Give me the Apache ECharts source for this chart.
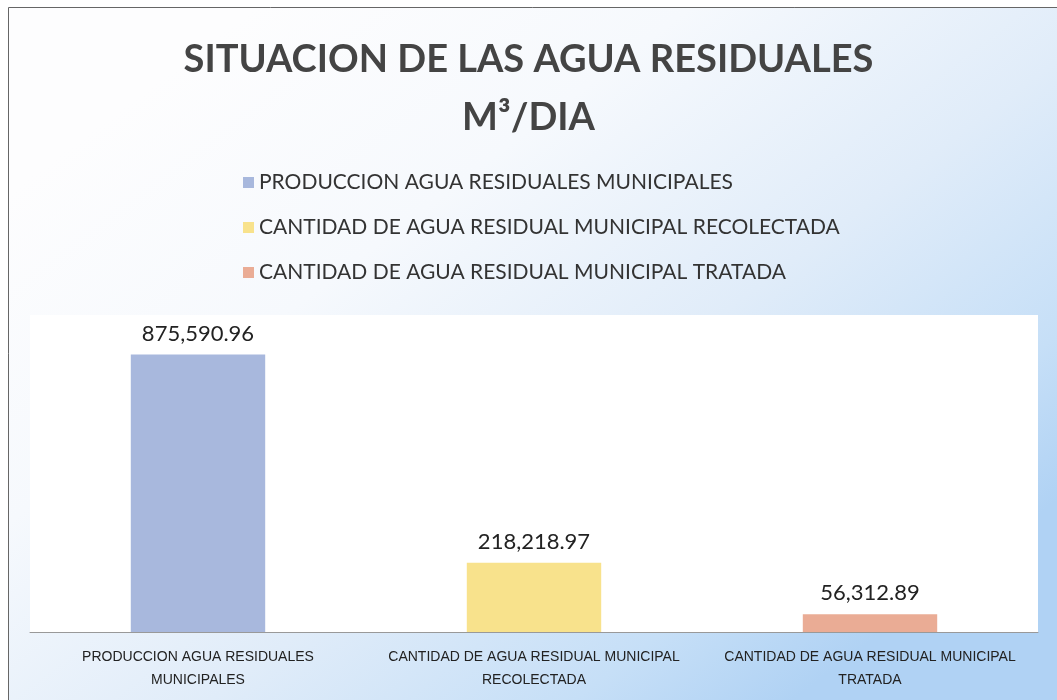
<!DOCTYPE html>
<html>
<head>
<meta charset="utf-8">
<script src="https://cdn.jsdelivr.net/npm/echarts@6/dist/echarts.min.js"></script>
<style>
  html, body { margin: 0; padding: 0; background: #fff; }
  #chart { width: 1057px; height: 700px; }
</style>
</head>
<body>
<div id="chart"></div>
<script>
// categories (also used as legend entries)
const categories = [
  'PRODUCCION AGUA RESIDUALES MUNICIPALES',
  'CANTIDAD DE AGUA RESIDUAL MUNICIPAL RECOLECTADA',
  'CANTIDAD DE AGUA RESIDUAL MUNICIPAL TRATADA'
];
// axis labels as printed (two lines)
const axisLabels = [
  'PRODUCCION AGUA RESIDUALES\nMUNICIPALES',
  'CANTIDAD DE AGUA RESIDUAL MUNICIPAL\nRECOLECTADA',
  'CANTIDAD DE AGUA RESIDUAL MUNICIPAL\nTRATADA'
];
const values = [875590.96, 218218.97, 56312.89];
const colors = ['#a8b8dd', '#f8e28c', '#eaac95'];

const chart = echarts.init(document.getElementById('chart'));

const fmt = (v) => v.toLocaleString('en-US', {minimumFractionDigits: 2, maximumFractionDigits: 2});

// one series per category so every bar gets its own legend entry
const series = categories.map((name, i) => ({
  name: name,
  type: 'bar',
  stack: 'all',
  barWidth: '40%',
  itemStyle: { color: colors[i] },
  label: {
    show: true,
    position: 'top',
    distance: 10,
    fontFamily: 'Lato, sans-serif',
    fontSize: 22,
    color: '#222',
    formatter: (p) => fmt(p.value)
  },
  data: values.map((v, j) => (j === i ? v : '-'))
}));

const option = {
  animation: false,
  backgroundColor: {
    type: 'linear', x: 0.25, y: 0, x2: 0.75, y2: 1,
    colorStops: [
      { offset: 0, color: '#fdfdfe' },
      { offset: 0.3, color: '#f6f9fd' },
      { offset: 0.6, color: '#e0ecf9' },
      { offset: 0.85, color: '#c6dff7' },
      { offset: 1, color: '#b0d2f4' }
    ]
  },
  graphic: [
    { type: 'rect', shape: { x: 0, y: 0, width: 1057, height: 7 }, style: { fill: '#fff' }, silent: true },
    { type: 'rect', shape: { x: 0, y: 0, width: 8, height: 700 }, style: { fill: '#fff' }, silent: true },
    { type: 'polyline', shape: { points: [[8.5, 700], [8.5, 7.5], [1057, 7.5]] }, style: { stroke: '#666', lineWidth: 1, fill: null }, silent: true }
  ],
  title: {
    text: 'SITUACION DE LAS AGUA RESIDUALES\nM³/DIA',
    left: 'center',
    top: 26,
    textStyle: {
      fontFamily: 'Lato, sans-serif',
      fontWeight: 'bold',
      fontSize: 38,
      lineHeight: 58,
      color: '#444'
    }
  },
  legend: {
    data: categories,
    orient: 'vertical',
    left: 238,
    top: 167,
    itemGap: 24,
    itemWidth: 11,
    itemHeight: 11,
    icon: 'rect',
    textStyle: { fontFamily: 'Lato, sans-serif', fontSize: 21, color: '#333' }
  },
  grid: {
    left: 30,
    right: 19,
    top: 315,
    bottom: 68,
    show: true,
    backgroundColor: '#fff',
    borderWidth: 0
  },
  xAxis: {
    type: 'category',
    data: axisLabels,
    axisTick: { show: false },
    axisLine: { lineStyle: { color: '#999', width: 1 } },
    axisLabel: {
      interval: 0,
      margin: 14,
      fontFamily: '"Liberation Sans", sans-serif',
      fontSize: 14,
      lineHeight: 23,
      color: '#222'
    }
  },
  yAxis: {
    type: 'value',
    min: 0,
    max: 1000000,
    show: false,
    splitLine: { show: false }
  },
  series: series
};

chart.setOption(option);
</script>
</body>
</html>
